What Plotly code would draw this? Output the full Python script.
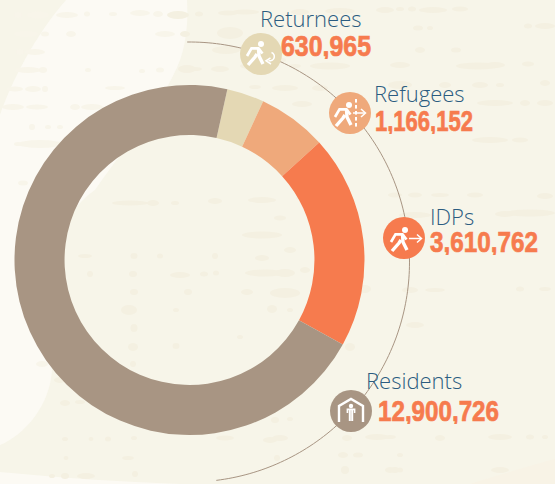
import numpy as np
import plotly.graph_objects as go

W, H = 555, 484
groups = ["Returnees", "Refugees", "IDPs", "Residents"]
values = [630965, 1166152, 3610762, 12900726]
value_labels = ["630,965", "1,166,152", "3,610,762", "12,900,726"]
colors = ["#e4d8b4", "#efa97b", "#f67b4e", "#a89583"]

BG = "#f7f5e9"
LIGHT = "#fcfaf4"
BLOB = "#f4f0e1"
BLOB_LIGHT = "#f8f5ea"
BLUE = "#2b5c80"
ORANGE = "#f67b4e"

px = lambda x: x / W
py = lambda y: 1 - y / H


def path(points, close=False):
    s = "M " + " L ".join(f"{px(x):.5f} {py(y):.5f}" for x, y in points)
    return s + (" Z" if close else "")


def bez(p0, segs):
    s = f"M {px(p0[0]):.5f} {py(p0[1]):.5f}"
    for a, b, c in segs:
        s += " C " + " ".join(f"{px(q[0]):.5f} {py(q[1]):.5f}" for q in (a, b, c))
    return s + " Z"


shapes = []
# lighter wash on the left
shapes.append(dict(type="path", xref="paper", yref="paper", layer="below", line_width=0, fillcolor=LIGHT,
                   path=bez((66, 0), [((35, 35), (10, 85), (0, 115)),
                                      ((0, 115), (0, 300), (0, 445)),
                                      ((25, 435), (50, 405), (52, 370)),
                                      ((40, 300), (50, 220), (95, 190)),
                                      ((130, 140), (165, 100), (180, 60)),
                                      ((187, 40), (188, 20), (187, 0))])))
shapes.append(dict(type="path", xref="paper", yref="paper", layer="below", line_width=0, fillcolor=LIGHT,
                   path=bez((0, 472), [((60, 478), (120, 482), (180, 484)), ((100, 484), (40, 484), (0, 484)),
                                       ((0, 480), (0, 476), (0, 472))])))
shapes.append(dict(type="path", xref="paper", yref="paper", layer="below", line_width=0, fillcolor="#f8f3e6",
                   path=bez((555, 459), [((530, 466), (500, 474), (470, 484)), ((500, 484), (530, 484), (555, 484)),
                                         ((555, 475), (555, 467), (555, 459))])))

# paper-texture blotches: x, y, rx, ry
blobs = [
    (18, 15, 4, 3), (38, 15, 11, 3.5), (67, 15, 11, 3), (87, 14, 3, 2.5), (113, 14, 4, 2), (140, 13, 10, 3), (158, 14, 5, 3),
    (178, 15, 11, 4), (199, 14, 4, 2.5), (228, 13, 10, 2.5), (245, 12, 14, 2.5), (300, 12, 9, 3), (340, 11, 15, 3),
    (385, 10, 9, 3), (400, 9, 4, 2), (412, 9, 4, 2.5), (433, 10, 14, 3), (460, 9, 8, 2.5), (26, 34, 12, 3), (45, 34, 4, 2.5),
    (71, 34, 5, 3), (165, 34, 10, 3), (185, 34, 5, 3), (230, 33, 13, 6), (418, 28, 5, 2.5), (430, 28, 3, 2), (528, 26, 4, 2.5),
    (545, 26, 10, 3), (20, 52, 4, 3), (35, 52, 10, 3), (226, 50, 14, 4), (255, 50, 8, 2), (420, 50, 5, 3), (456, 50, 5, 2.5),
    (195, 69, 7, 2), (220, 69, 9, 3), (28, 70, 13, 3), (43, 70, 4, 3), (88, 70, 3, 2), (142, 71, 3, 2), (160, 70, 4, 2.5),
    (187, 69, 9, 4), (255, 66, 15, 3.5), (295, 66, 6, 2), (330, 66, 20, 3.5), (400, 65, 10, 3), (478, 66, 22, 3.5),
    (495, 65, 10, 3), (528, 64, 6, 2.5), (15, 89, 8, 2.5), (33, 89, 8, 3), (45, 89, 3, 3), (115, 88, 10, 2), (255, 87, 6, 2),
    (285, 88, 13, 3), (320, 88, 8, 3), (400, 85, 12, 4), (445, 85, 6, 3), (480, 85, 8, 3), (500, 85, 4, 2), (545, 83, 5, 3),
    (13, 107, 11, 3), (37, 107, 11, 2.5), (75, 107, 5, 3), (92, 107, 11, 3), (120, 107, 6, 2), (302, 104, 10, 3),
    (495, 103, 18, 3), (525, 103, 5, 3), (545, 103, 8, 3), (32, 127, 3, 3), (48, 127, 3, 2), (60, 127, 3, 2), (18, 144, 4, 2),
    (40, 144, 22, 4), (75, 144, 20, 3.5), (50, 162, 6, 2.5), (280, 60, 6, 2.5), (490, 140, 18, 3), (520, 140, 8, 2.5),
    (23, 183, 5, 2.5), (130, 203, 18, 2.5), (153, 203, 6, 3), (175, 203, 4, 2), (215, 201, 7, 3), (262, 200, 14, 3),
    (305, 198, 9, 3), (395, 195, 7, 2.5), (415, 195, 7, 2.5), (440, 195, 9, 2), (475, 195, 8, 2.5), (545, 196, 8, 3),
    (280, 218, 6, 2.5), (85, 256, 7, 2), (134, 256, 3.5, 3), (160, 256, 3, 2.5), (215, 256, 3, 3), (262, 258, 7, 3),
    (262, 235, 20, 3.5), (290, 250, 6, 3), (338, 220, 3, 2), (415, 215, 16, 3), (505, 214, 10, 3), (530, 213, 25, 3.5),
    (90, 274, 3, 3), (133, 274, 4, 3), (180, 275, 10, 3), (204, 274, 4, 2.5), (216, 273, 3, 2.5), (265, 273, 20, 3.5),
    (285, 273, 10, 4), (305, 270, 5, 3), (345, 288, 13, 3), (365, 289, 6, 4), (410, 290, 8, 3), (435, 290, 10, 2),
    (520, 289, 4, 2.5), (545, 289, 6, 2), (134, 292, 4, 3), (188, 292, 4, 3), (247, 292, 6, 3), (285, 293, 15, 5), (415, 325, 9, 3),
    (129, 310, 8, 5), (134, 328, 3.5, 4), (176, 310, 3, 2), (272, 309, 5, 4), (290, 310, 3, 2), (345, 318, 6, 2), (320, 335, 3, 3),
    (133, 347, 5, 4), (176, 346, 3.5, 3), (240, 337, 3, 2), (350, 347, 5, 4), (133, 364, 3, 3), (42, 364, 6, 3), (60, 380, 6, 3),
    (65, 403, 5, 3), (80, 402, 5, 2), (275, 420, 4, 3), (290, 419, 3, 2), (270, 440, 7, 3), (65, 439, 3, 2), (91, 439, 2.5, 2),
    (108, 439, 3, 2.5), (134, 438, 3, 2), (225, 438, 9, 2.5), (280, 438, 8, 3), (377, 437, 12, 3), (390, 437, 6, 2),
    (440, 438, 5, 3), (500, 437, 12, 3), (530, 437, 4, 2.5), (545, 437, 3, 2), (343, 455, 5, 3), (358, 455, 5, 2.5), (400, 455, 3, 2),
    (128, 458, 6, 2), (66, 458, 2.5, 2), (277, 458, 3, 3), (345, 470, 4, 4), (390, 470, 5, 3), (400, 470, 3, 2.5), (500, 470, 9, 3),
    (52, 476, 3, 2), (65, 476, 4, 3), (86, 476, 9, 3), (135, 474, 3, 3), (395, 470, 4, 3), (340, 424, 6, 3), (347, 438, 5, 3),
]
for x, y, rx, ry in blobs:
    on_wash = (x < 178 and y < 190) or x < 52
    shapes.append(dict(type="circle", xref="paper", yref="paper", layer="below", line_width=0,
                       fillcolor=BLOB_LIGHT if on_wash else BLOB,
                       x0=px(x - rx), x1=px(x + rx), y0=py(y + ry), y1=py(y - ry)))

# thin orbit
theta = np.radians(np.linspace(-0.6, 173, 160))
arc = [(189.5 + 220 * np.sin(t), 262 - 220 * np.cos(t)) for t in theta]
shapes.append(dict(type="path", xref="paper", yref="paper", layer="below", path=path(arc),
                   line=dict(color="#a89583", width=1)))


def stroke(pts, w=2.6):
    shapes.append(dict(type="path", xref="paper", yref="paper", layer="above", path=path(pts),
                       line=dict(color="white", width=w)))


def disk(cx, cy, r, col):
    shapes.append(dict(type="circle", xref="paper", yref="paper", layer="above", line_width=0, fillcolor=col,
                       x0=px(cx - r), x1=px(cx + r), y0=py(cy + r), y1=py(cy - r)))


def runner(cx, cy):
    def o(pts):
        return [(cx + a, cy + b) for a, b in pts]
    disk(cx + 3, cy - 8, 3, "white")
    stroke(o([(-11, 4), (-6.5, -3.6), (0.5, -3.6), (4.5, 1.5)]), 2.7)
    stroke(o([(0.5, -3.6), (1, 4), (5, 12)]), 3.4)
    stroke(o([(-1, 2), (-3, 5), (-10, 13)]), 3.4)


icon_centres = [(261, 54), (350, 113), (404, 238), (351, 411)]
for (cx, cy), col in zip(icon_centres, colors):
    disk(cx, cy, 21, col)

# returnees: person plus returning arrow
cx, cy = icon_centres[0]
runner(cx - 3, cy - 2)
t = np.radians(np.linspace(-70, 110, 16))
stroke([(cx + 9 + 4.3 * np.cos(a), cy + 2.5 + 4.3 * np.sin(a)) for a in t], 1.5)
stroke([(cx + 10, cy + 10), (cx + 5, cy + 6.8), (cx + 9.5, cy + 3.8)], 1.5)

# refugees: person, border, arrow
cx, cy = icon_centres[1]
runner(cx - 4, cy)
for y0 in (-14, -8, -2, 4, 10):
    stroke([(cx + 6, cy + y0), (cx + 6, cy + y0 + 3.6)], 2)
stroke([(cx + 3, cy), (cx + 15, cy)], 1.5)
stroke([(cx + 11, cy - 4), (cx + 15.5, cy), (cx + 11, cy + 4)], 1.5)

# IDPs: person and arrow
cx, cy = icon_centres[2]
runner(cx - 2, cy)
stroke([(cx + 5, cy + 0.5), (cx + 17, cy + 0.5)], 1.5)
stroke([(cx + 13, cy - 3.5), (cx + 17.5, cy + 0.5), (cx + 13, cy + 4.5)], 1.5)

# residents: shelter and person
cx, cy = icon_centres[3]
stroke([(cx - 12, cy + 11), (cx - 12, cy - 5), (cx, cy - 12), (cx + 12, cy - 5), (cx + 12, cy + 11)], 2.4)
disk(cx, cy - 5, 2.2, "white")
stroke([(cx - 3.6, cy + 2), (cx - 3.6, cy - 1.6), (cx + 3.6, cy - 1.6), (cx + 3.6, cy + 2)], 1.6)
stroke([(cx - 1.2, cy - 1), (cx - 1.2, cy + 10)], 2)
stroke([(cx + 1.2, cy - 1), (cx + 1.2, cy + 10)], 2)

fig = go.Figure(go.Pie(
    labels=groups, values=values, sort=False, direction="clockwise", rotation=12.5,
    hole=0.714, textinfo="none", hoverinfo="label+value", showlegend=False,
    marker=dict(colors=colors, line=dict(width=0)),
    domain=dict(x=[px(14.5), px(364.5)], y=[py(435), py(85)]),
))

label_pos = [(260, 18), (374, 93), (430, 216), (366, 380)]
value_span = [(281, 371), (375, 473), (430, 538), (378, 499)]
value_y = [45.5, 121.5, 242.5, 410.5]
annotations = []
for g, v, (lx, ly), (v0, v1), vy in zip(groups, value_labels, label_pos, value_span, value_y):
    annotations.append(dict(x=px(lx), y=py(ly), xref="paper", yref="paper", text=g, showarrow=False,
                            xanchor="left", yanchor="middle", borderpad=0, xshift=-1,
                            font=dict(family="Open Sans", size=22, color=BLUE, weight=300)))
    annotations.append(dict(x=px((v0 + v1) / 2), y=py(vy), xref="paper", yref="paper", text=v, showarrow=False,
                            xanchor="center", yanchor="middle", borderpad=0, width=v1 - v0 + 6, height=26,
                            font=dict(family="Liberation Sans", size=29, color=ORANGE, weight=700)))

fig.update_layout(width=W, height=H, margin=dict(l=0, r=0, t=0, b=0), paper_bgcolor=BG, plot_bgcolor=BG,
                  shapes=shapes, annotations=annotations, showlegend=False)

# squeeze the figures into the tall, narrow look of the original numerals
spans = {v: b - a for v, (a, b) in zip(value_labels, value_span)}
js = ("document.body.style.margin='0';document.body.style.overflow='hidden';"
      "var sp=" + str(spans) + ";"
      "document.querySelectorAll('text.annotation-text').forEach(function(t){"
      "var w=sp[t.textContent];if(w){t.setAttribute('textLength',w);"
      "t.setAttribute('lengthAdjust','spacingAndGlyphs');t.style.stroke='" + ORANGE + "';t.style.strokeWidth='0.7px';}});")
fig.write_html("out.html", config=dict(displayModeBar=False), post_script=js)
